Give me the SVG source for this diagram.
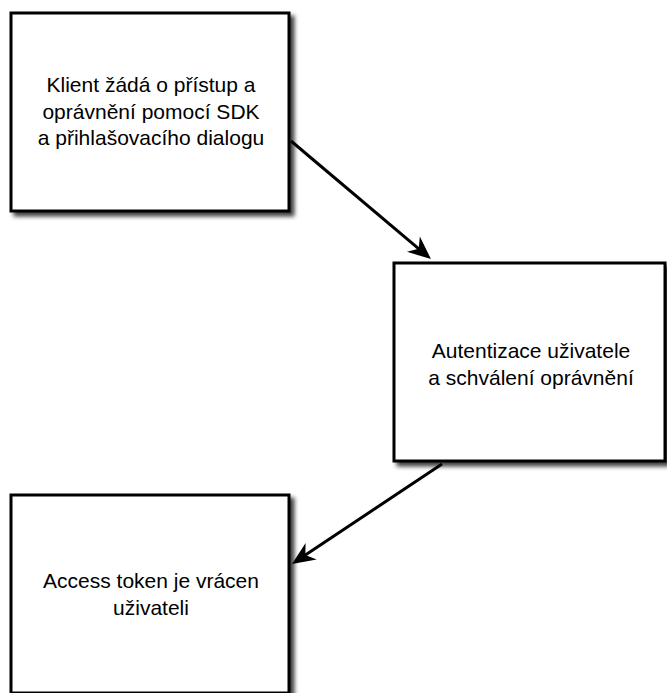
<svg xmlns="http://www.w3.org/2000/svg" width="667" height="693" viewBox="0 0 667 693">
<style>
.box{fill:#fff;stroke:#000;stroke-width:3;filter:url(#sh)}
.lbl{font-family:"Liberation Sans",Arial,sans-serif;font-size:21px;fill:#000;text-anchor:middle}
.edge{fill:none;stroke:#000;stroke-width:3}
</style>
<defs>
<filter id="sh" x="-10%" y="-10%" width="130%" height="130%">
<feDropShadow dx="4" dy="4" stdDeviation="2" flood-color="#000" flood-opacity="0.75"/>
</filter>
<marker id="ah" markerUnits="userSpaceOnUse" markerWidth="26" markerHeight="22" viewBox="-24 -11 26 22" refX="-12" refY="0" orient="auto" overflow="visible">
<path d="M0,0 L-23,-10 L-16,0 L-23,10 Z" fill="#000"/>
</marker>
</defs>
<rect width="667" height="693" fill="#fff"/>
<g id="edges">
<path class="edge" d="M291,141 L421.8,251.3" marker-end="url(#ah)"/>
<path class="edge" d="M442,464 L302,557.3" marker-end="url(#ah)"/>
</g>
<g id="n1">
<rect class="box" x="11" y="13" width="278" height="198"/>
<text class="lbl" x="151" y="92">Klient žádá o přístup a</text>
<text class="lbl" x="151" y="118.5">oprávnění pomocí SDK</text>
<text class="lbl" x="151" y="145">a přihlašovacího dialogu</text>
</g>
<g id="n2">
<rect class="box" x="394" y="263" width="271" height="198"/>
<text class="lbl" x="531" y="358">Autentizace uživatele</text>
<text class="lbl" x="531" y="385">a schválení oprávnění</text>
</g>
<g id="n3">
<rect class="box" x="11" y="495" width="278" height="198"/>
<text class="lbl" x="151" y="588">Access token je vrácen</text>
<text class="lbl" x="151" y="615">uživateli</text>
</g>
</svg>
